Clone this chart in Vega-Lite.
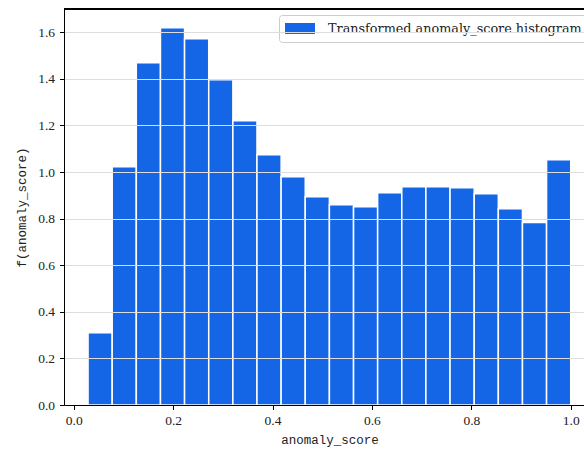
{
  "$schema": "https://vega.github.io/schema/vega-lite/v6.json",
  "width": 520,
  "height": 396,
  "autosize": {"type": "none"},
  "padding": {"left": 64, "top": 9, "right": 0, "bottom": 45},
  "background": "white",
  "config": {
    "view": {"stroke": null},
    "font": "Liberation Serif"
  },
  "data": {
    "values": [
      {"bin_start": 0.0288, "bin_end": 0.0774, "density": 0.310},
      {"bin_start": 0.0774, "bin_end": 0.1259, "density": 1.023},
      {"bin_start": 0.1259, "bin_end": 0.1745, "density": 1.469},
      {"bin_start": 0.1745, "bin_end": 0.2230, "density": 1.619},
      {"bin_start": 0.2230, "bin_end": 0.2716, "density": 1.572},
      {"bin_start": 0.2716, "bin_end": 0.3202, "density": 1.396},
      {"bin_start": 0.3202, "bin_end": 0.3687, "density": 1.220},
      {"bin_start": 0.3687, "bin_end": 0.4173, "density": 1.074},
      {"bin_start": 0.4173, "bin_end": 0.4658, "density": 0.980},
      {"bin_start": 0.4658, "bin_end": 0.5144, "density": 0.894},
      {"bin_start": 0.5144, "bin_end": 0.5630, "density": 0.860},
      {"bin_start": 0.5630, "bin_end": 0.6115, "density": 0.851},
      {"bin_start": 0.6115, "bin_end": 0.6601, "density": 0.911},
      {"bin_start": 0.6601, "bin_end": 0.7086, "density": 0.937},
      {"bin_start": 0.7086, "bin_end": 0.7572, "density": 0.937},
      {"bin_start": 0.7572, "bin_end": 0.8058, "density": 0.933},
      {"bin_start": 0.8058, "bin_end": 0.8543, "density": 0.907},
      {"bin_start": 0.8543, "bin_end": 0.9029, "density": 0.843},
      {"bin_start": 0.9029, "bin_end": 0.9514, "density": 0.783},
      {"bin_start": 0.9514, "bin_end": 1.0000, "density": 1.053}
    ]
  },
  "layer": [
    {
      "mark": {"type": "rect", "stroke": "white", "strokeWidth": 1.5},
      "encoding": {
        "x": {
          "field": "bin_start",
          "type": "quantitative",
          "scale": {"domain": [-0.0196, 1.0267], "nice": false, "zero": false},
          "axis": {
            "values": [0, 0.2, 0.4, 0.6, 0.8, 1.0],
            "format": ".1f",
            "grid": false,
            "zindex": 1,
            "domainColor": "black",
            "domainWidth": 1,
            "tickColor": "black",
            "tickWidth": 1,
            "tickSize": 4.5,
            "labelPadding": 4,
            "labelFont": "Liberation Serif",
            "labelFontSize": 13.5,
            "labelColor": "#222222",
            "title": "anomaly_score",
            "titleFont": "Liberation Mono",
            "titleFontSize": 12.5,
            "titleFontWeight": "normal",
            "titleColor": "#222222",
            "titleX": 265.5,
            "titleY": 38,
            "titleAlign": "center",
            "titleBaseline": "alphabetic"
          }
        },
        "x2": {"field": "bin_end"},
        "y": {
          "field": "density",
          "type": "quantitative",
          "scale": {"domain": [0, 1.7], "nice": false},
          "axis": {
            "values": [0, 0.2, 0.4, 0.6, 0.8, 1.0, 1.2, 1.4, 1.6],
            "format": ".1f",
            "grid": true,
            "gridColor": "#dddddd",
            "gridWidth": 1.2,
            "zindex": 1,
            "domainColor": "black",
            "domainWidth": 1,
            "tickColor": "black",
            "tickWidth": 1,
            "tickSize": 4.5,
            "labelPadding": 5,
            "labelFont": "Liberation Serif",
            "labelFontSize": 13.5,
            "labelColor": "#222222",
            "title": "f(anomaly_score)",
            "titleFont": "Liberation Mono",
            "titleFontSize": 12.5,
            "titleFontWeight": "normal",
            "titleColor": "#222222",
            "titleAngle": 270,
            "titleX": -43,
            "titleY": 198,
            "titleAlign": "center",
            "titleBaseline": "middle"
          }
        },
        "y2": {"datum": 0},
        "color": {
          "datum": "Transformed anomaly_score histogram",
          "scale": {"range": ["#1466e6"]},
          "legend": {
            "orient": "none",
            "legendX": 215,
            "legendY": 6,
            "title": null,
            "symbolType": "M-1,-0.733H3V0.733H-1Z",
            "symbolSize": 225,
            "symbolStrokeWidth": 0,
            "labelFont": "DejaVu Serif",
            "labelFontSize": 12.8,
            "labelColor": "#222222",
            "labelOffset": 28,
            "labelLimit": 400,
            "padding": 6,
            "strokeColor": "#cccccc",
            "cornerRadius": 3,
            "fillColor": "white"
          }
        }
      }
    },
    {
      "mark": {"type": "rule", "color": "black", "strokeWidth": 1},
      "encoding": {"y": {"datum": 1.7}}
    }
  ]
}
